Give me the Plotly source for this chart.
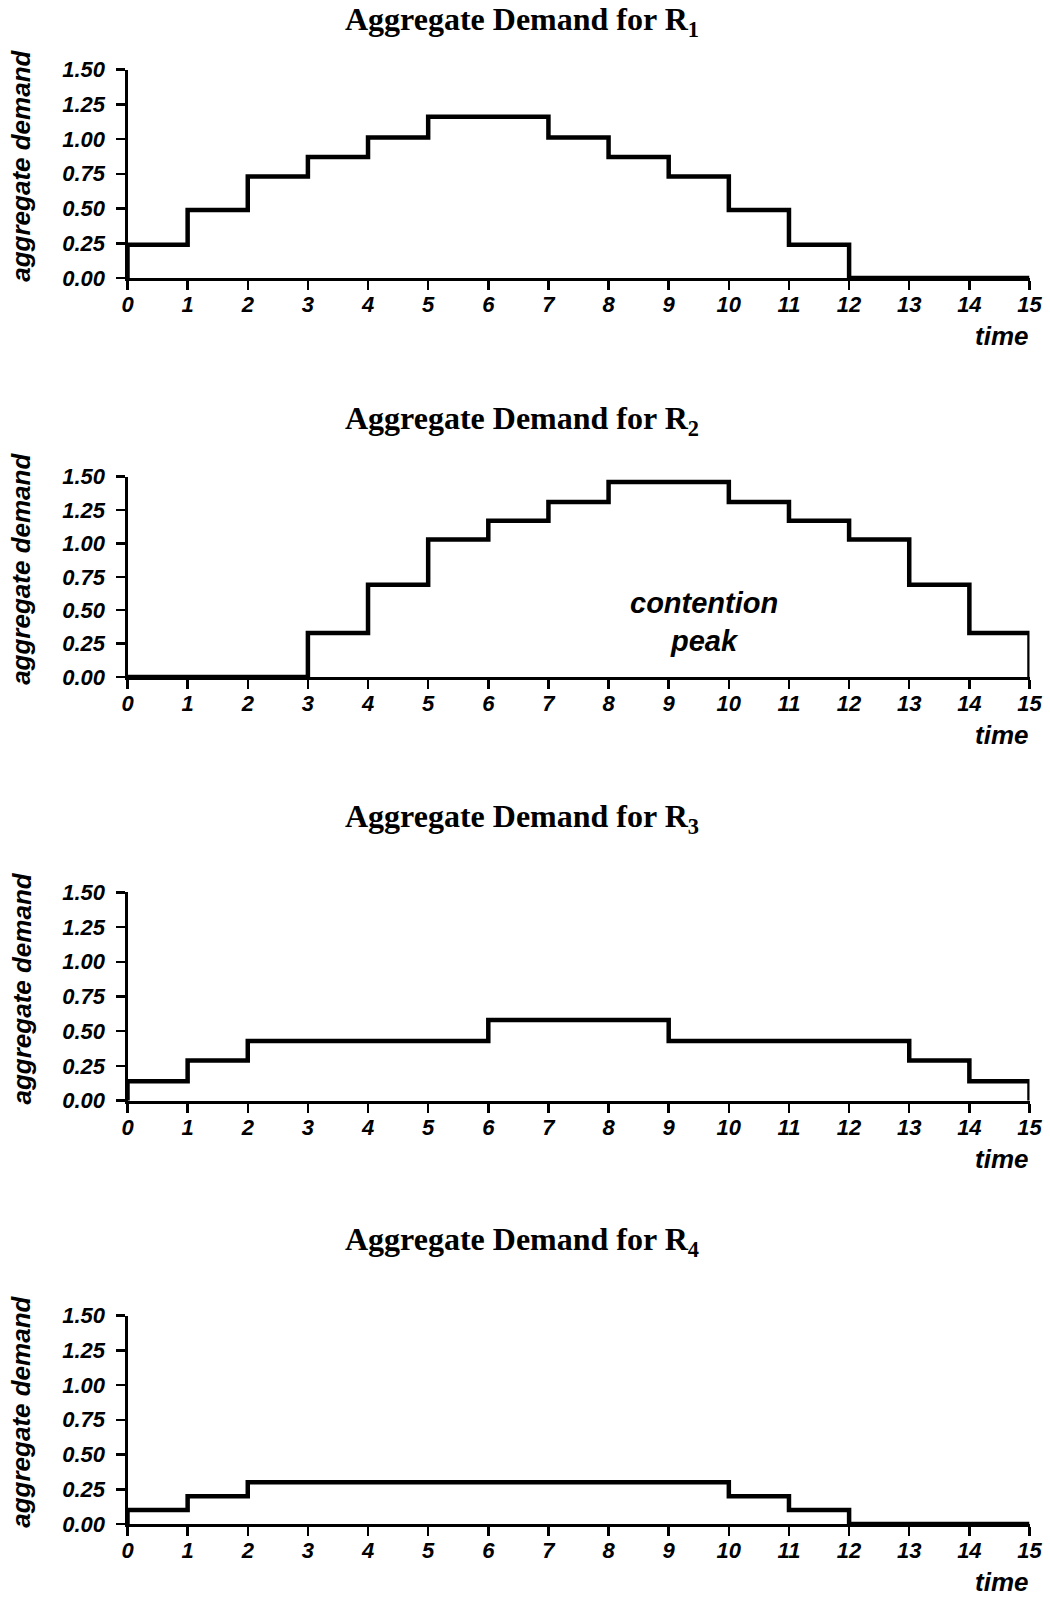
import plotly.graph_objects as go

W, H = 1050, 1598

# ---------------- data ----------------
time_points = list(range(16))
subscripts = ["1", "2", "3", "4"]
demand_r1 = [0.24, 0.49, 0.73, 0.87, 1.01, 1.16, 1.16, 1.01, 0.87, 0.73, 0.49, 0.24, 0.0, 0.0, 0.0]
demand_r2 = [0.0, 0.0, 0.0, 0.33, 0.69, 1.03, 1.17, 1.31, 1.46, 1.46, 1.31, 1.17, 1.03, 0.69, 0.33]
demand_r3 = [0.14, 0.29, 0.43, 0.43, 0.43, 0.43, 0.58, 0.58, 0.58, 0.43, 0.43, 0.43, 0.43, 0.29, 0.14]
demand_r4 = [0.10, 0.20, 0.30, 0.30, 0.30, 0.30, 0.30, 0.30, 0.30, 0.30, 0.20, 0.10, 0.0, 0.0, 0.0]
demands = [demand_r1, demand_r2, demand_r3, demand_r4]
y_ticks = [0.0, 0.25, 0.5, 0.75, 1.0, 1.25, 1.5]
y_ticklabels = ["0.00", "0.25", "0.50", "0.75", "1.00", "1.25", "1.50"]
x_ticks = list(range(16))
x_ticklabels = [str(t) for t in x_ticks]

# ---------------- layout (pixel positions in the window) ----------------
x_left_px, x_right_px = 127.5, 1029.5
panels_px = [(69.5, 278.0), (476.7, 677.0), (892.3, 1100.7), (1315.5, 1524.0)]
title_y_px = [22.0, 420.0, 818.5, 1241.5]

def px_x(p):
    return p / W

def px_y(p):
    return 1 - p / H

sans = "Liberation Sans, Arial, Helvetica, sans-serif"
serif = "Liberation Serif, Times New Roman, serif"
tick_font = dict(family=sans, size=22, color="black", weight="bold", style="italic")

fig = go.Figure()
annotations = []

for i, dem in enumerate(demands):
    n = i + 1
    sfx = str(n) if n > 1 else ""
    xs = [time_points[0]] + time_points[:-1] + [time_points[-1], time_points[-1]]
    ys = [0.0] + dem + [dem[-1], 0.0]
    fig.add_trace(go.Scatter(
        x=xs, y=ys, mode="lines", line=dict(shape="hv", color="black", width=4.5),
        xaxis=f"x{sfx}", yaxis=f"y{sfx}",
        showlegend=False, cliponaxis=False, hoverinfo="skip",
    ))
    top, bot = panels_px[i]
    dom_y = [px_y(bot), px_y(top)]
    axis_common = dict(showline=True, linecolor="black", linewidth=3, ticks="outside",
                       ticklen=9, tickwidth=2.5, tickcolor="black", showgrid=False,
                       zeroline=False, tickfont=tick_font, automargin=False)
    fig.layout[f"xaxis{sfx}"] = dict(
        domain=[px_x(x_left_px), px_x(x_right_px)], range=[0, 15],
        anchor=f"y{sfx}", tickmode="array", tickvals=x_ticks,
        ticktext=x_ticklabels, ticklabelstandoff=-4, **axis_common)
    fig.layout[f"yaxis{sfx}"] = dict(
        domain=dom_y, range=[0, 1.5], anchor=f"x{sfx}",
        tickmode="array", tickvals=y_ticks, ticktext=y_ticklabels,
        ticklabelstandoff=6, **axis_common)
    # panel title
    annotations.append(dict(
        text=f"Aggregate Demand for R<sub>{subscripts[i]}</sub>", xref="paper", yref="paper",
        x=px_x(522), y=px_y(title_y_px[i]), xanchor="center", yanchor="middle",
        showarrow=False, font=dict(family=serif, size=32, color="black", weight="bold")))
    # y axis title
    annotations.append(dict(
        text="aggregate demand", textangle=-90, xref="paper", yref="paper",
        x=px_x(21), y=px_y((top + bot) / 2 - 8), xanchor="center", yanchor="middle",
        showarrow=False, font=dict(family=sans, size=26, color="black", weight="bold", style="italic")))
    # x axis title
    annotations.append(dict(
        text="time", xref="paper", yref="paper",
        x=px_x(1030), y=px_y(bot + 58), xanchor="right", yanchor="middle",
        showarrow=False, font=dict(family=sans, size=26, color="black", weight="bold", style="italic")))

# contention peak label (panel 2)
for txt, xv, yv in [("contention", 704, 603), ("peak", 704, 641)]:
    annotations.append(dict(
        text=txt, xref="paper", yref="paper", x=px_x(xv), y=px_y(yv),
        xanchor="center", yanchor="middle", showarrow=False,
        font=dict(family=sans, size=29, color="black", weight="bold", style="italic")))

fig.update_layout(
    width=W, height=H, autosize=False,
    margin=dict(l=0, r=0, t=0, b=0, pad=0, autoexpand=False),
    paper_bgcolor="white", plot_bgcolor="white", annotations=annotations,
    template="none",
)

# remove the default page margin so the figure fills the window exactly
fig.write_html("out.html", config={"displayModeBar": False, "staticPlot": True},
               post_script="document.body.style.margin='0';")
